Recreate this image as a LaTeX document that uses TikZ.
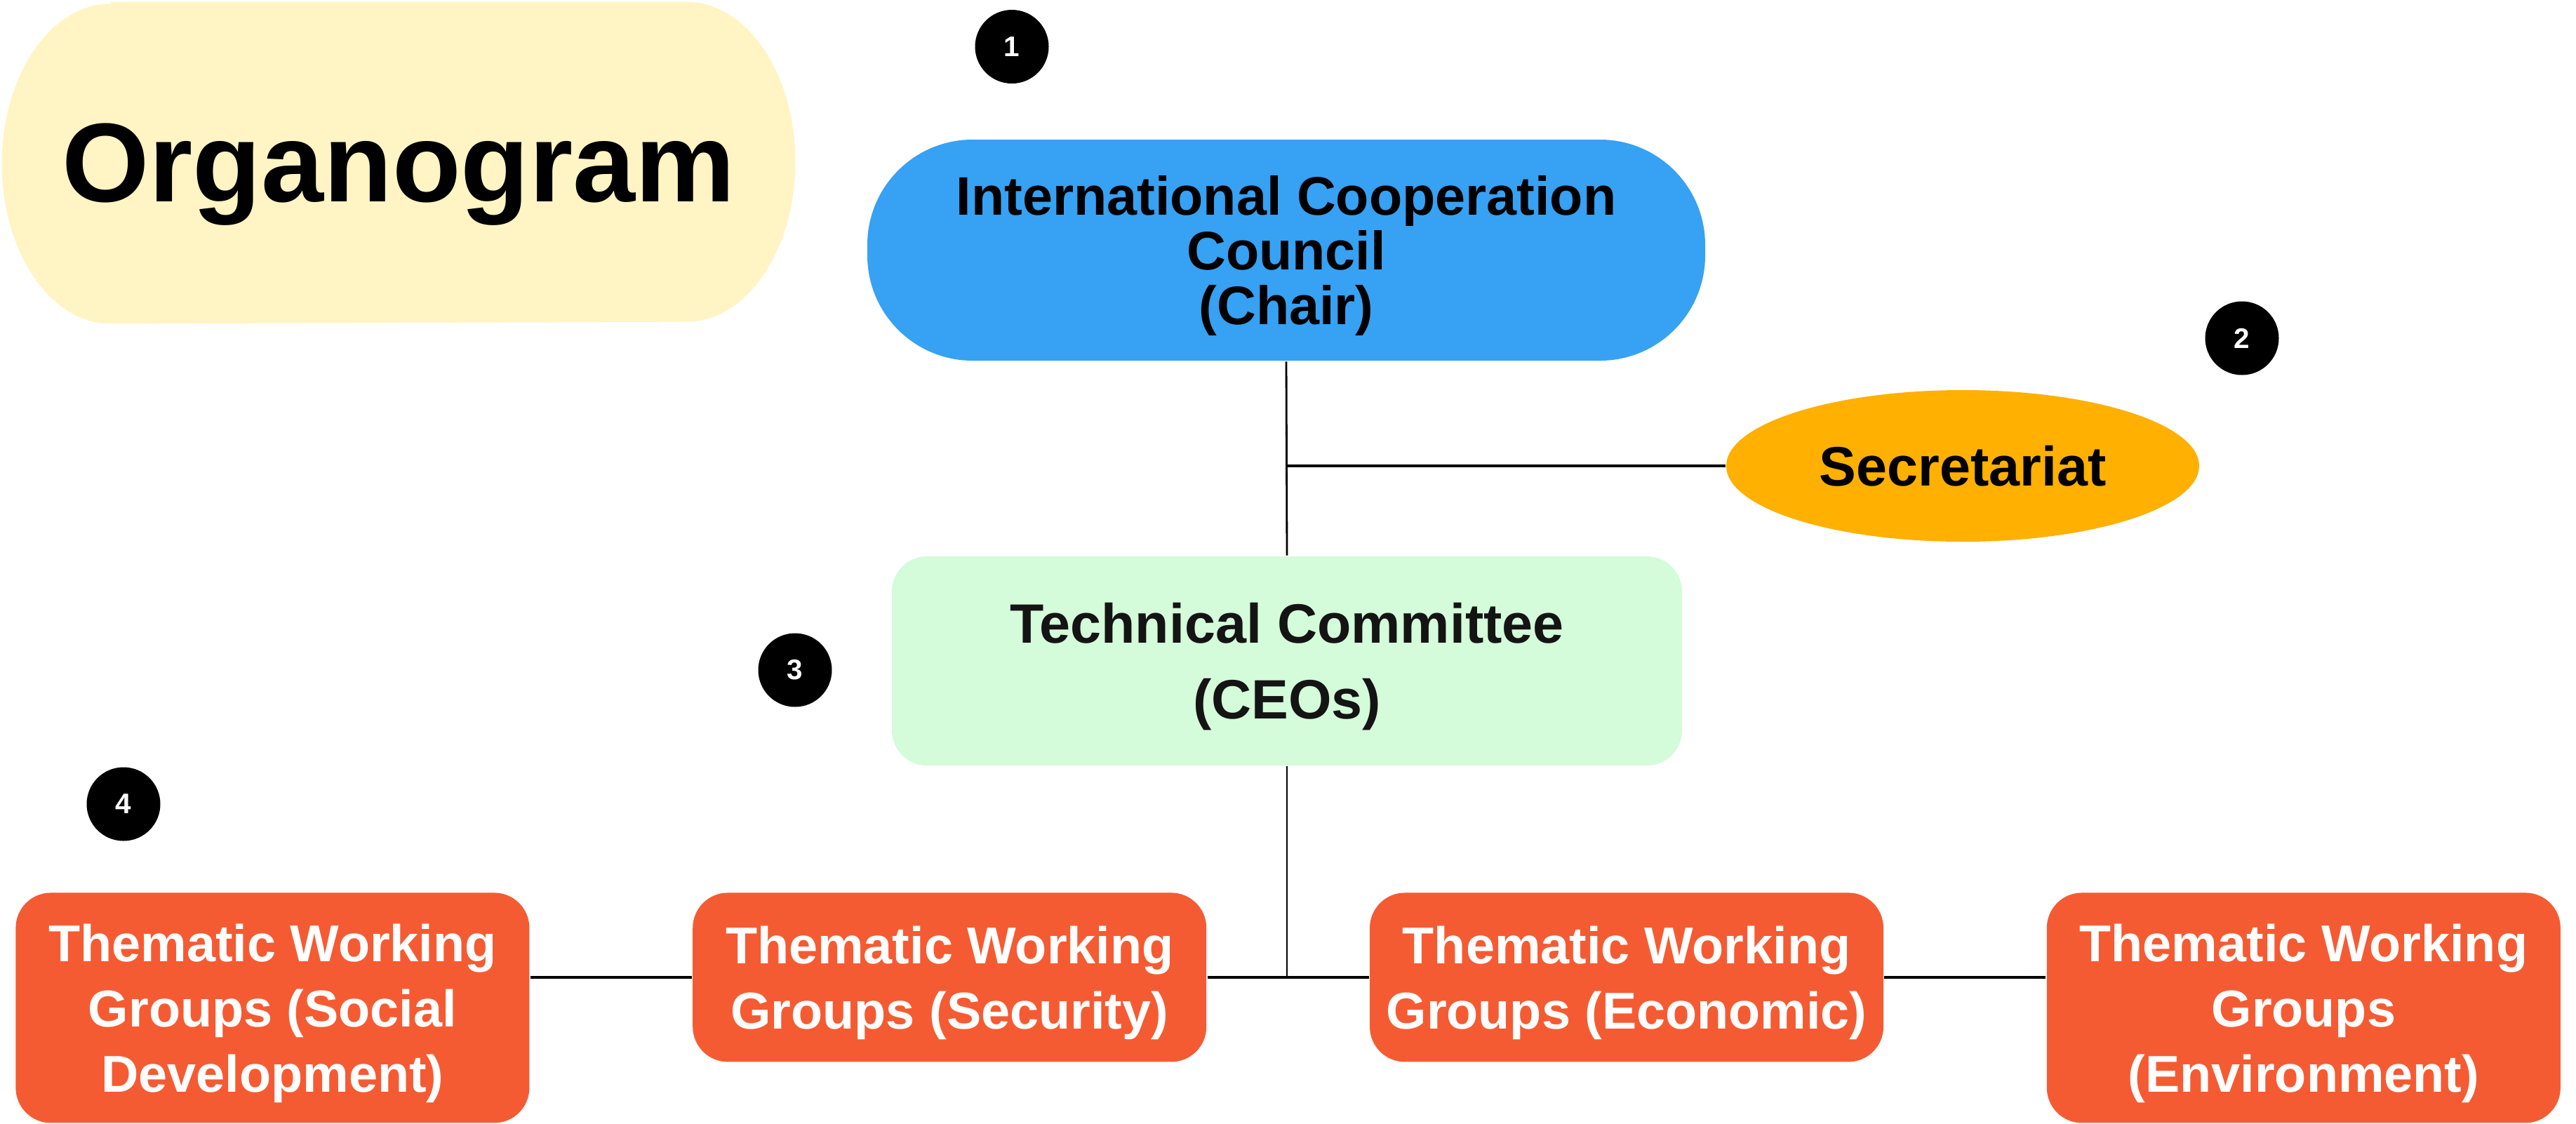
\documentclass[tikz,border=0pt]{standalone}
\usepackage{fontspec}
\setmainfont{Liberation Sans}
\usetikzlibrary{positioning,shapes.geometric,backgrounds}

\definecolor{titlefill}{HTML}{FFF4C4}
\definecolor{councilfill}{HTML}{37A1F3}
\definecolor{secfill}{HTML}{FFB001}
\definecolor{techfill}{HTML}{D4FBDA}
\definecolor{groupfill}{HTML}{F55B33}

\begin{document}
\begin{tikzpicture}[line width=0.8pt, node distance=2.30cm]
  \tikzstyle{box}=[rectangle, align=center, inner sep=0pt, text=black, text depth=0pt]
  \tikzstyle{group}=[box, fill=groupfill, text=white, rounded corners=0.5cm,
                     minimum width=7.32cm, minimum height=2.41cm,
                     font=\fontsize{21}{26.5}\selectfont\bfseries]
  \tikzstyle{badge}=[circle, fill=black, text=white, minimum size=1.05cm,
                     inner sep=0pt, font=\fontsize{11.5}{11.5}\selectfont\bfseries]
  \tikzstyle{link}=[line width=1.1pt]

  \useasboundingbox (0,0) rectangle (36.71,-16.01);

  % title
  \node[box, minimum width=11.28cm, minimum height=4.56cm,
        font=\fontsize{45.5}{46}\selectfont\bfseries] (title) at (5.68,-2.32) {Organogram};
  \begin{scope}[on background layer]
    \fill[titlefill] ([xshift=1.55cm]title.north west) -- ([xshift=-1.55cm]title.north east)
      arc[start angle=90, end angle=-90, x radius=1.55cm, y radius=2.28cm]
      -- ([xshift=1.55cm]title.south west)
      arc[start angle=270, end angle=90, x radius=1.55cm, y radius=2.28cm] -- cycle;
  \end{scope}

  % levels
  \node[box, fill=councilfill, rounded corners=1.5cm, minimum width=11.94cm, minimum height=3.15cm,
        font=\fontsize{22}{22.2}\selectfont\bfseries] (council) at (18.33,-3.565)
        {International Cooperation\\Council\\(Chair)};
  \node[ellipse, fill=secfill, minimum width=6.74cm, minimum height=2.16cm, inner sep=0pt,
        font=\fontsize{22.5}{23}\selectfont\bfseries] (sec) at (27.97,-6.64) {Secretariat};
  \node[box, fill=techfill, rounded corners=0.5cm, minimum width=11.26cm, minimum height=2.98cm,
        text=black!92, font=\fontsize{22.5}{30.7}\selectfont\bfseries] (tech) at (18.34,-9.42)
        {Technical Committee\\(CEOs)};

  \node[group, minimum height=3.28cm, anchor=north west] (social) at (0.21,-12.71)
        {Thematic Working\\Groups (Social\\Development)};
  \node[group, right=of social.north east, anchor=north west] (security)
        {Thematic Working\\Groups (Security)};
  \node[group, right=of security.north east, anchor=north west] (economic)
        {Thematic Working\\Groups (Economic)};
  \node[group, minimum height=3.28cm, right=of economic.north east, anchor=north west] (environment)
        {Thematic Working\\Groups\\(Environment)};

  % numbers
  \node[badge] (b1) at (14.42,-0.665) {1};
  \node[badge] (b2) at (31.95,-4.82)  {2};
  \node[badge] (b3) at (11.33,-9.55)  {3};
  \node[badge] (b4) at (1.76,-11.46)  {4};

  % lines
  \coordinate (hub) at (tech.south |- security.east);
  \draw (council.south) -- (tech.north);
  \draw[link] (council.south |- sec.west) -- (sec.west);
  \draw (tech.south) -- (hub);
  \draw[link] (security.east) -- (economic.west);
  \draw[link] (social.east |- security.west) -- (security.west);
  \draw[link] (economic.east) -- (environment.west |- economic.east);
\end{tikzpicture}
\end{document}
